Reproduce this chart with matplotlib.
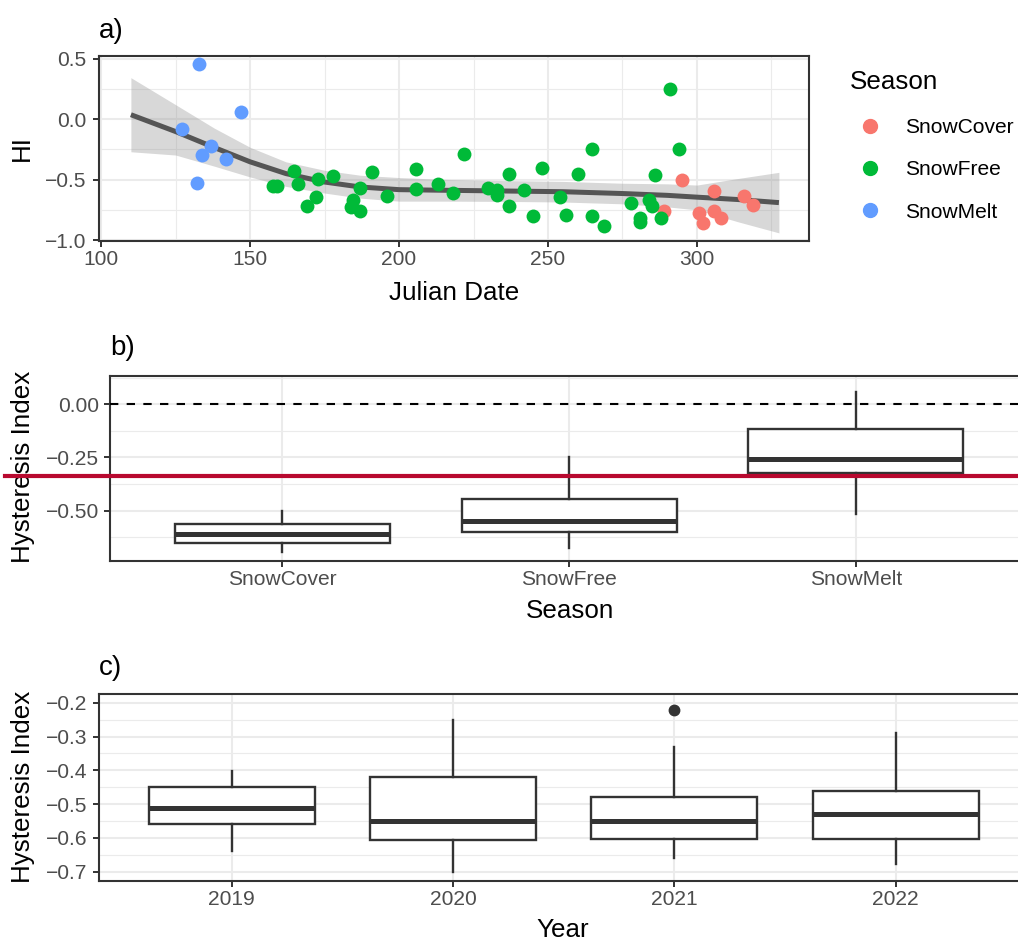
import numpy as np
import matplotlib
matplotlib.use("Agg")
import matplotlib.pyplot as plt
from matplotlib.lines import Line2D
from matplotlib.ticker import FixedLocator, FuncFormatter

plt.rcParams['font.family'] = ['Liberation Sans', 'DejaVu Sans']

W, H, DPI = 1018, 941, 100

# ---- panel a: HI against Julian date, by season ----
melt_jd = [132.8, 146.9, 127.0, 137.0, 134.0, 141.9, 132.1]
melt_hi = [0.453, 0.062, -0.081, -0.223, -0.298, -0.333, -0.527]

free_jd = [157.8, 158.9, 164.9, 166.0, 172.9, 178.0, 172.0, 169.0, 186.9, 191.0,
           184.7, 183.9, 186.9, 195.9, 205.7, 205.7, 213.2, 218.0, 221.9, 230.0,
           233.0, 233.0, 236.9, 236.9, 241.9, 245.1, 247.9, 254.0, 255.9, 260.0,
           264.9, 264.9, 268.9, 277.9, 280.9, 280.9, 284.0, 284.8, 285.9, 287.9,
           290.9, 293.9]
free_hi = [-0.556, -0.556, -0.431, -0.539, -0.492, -0.473, -0.645, -0.720, -0.567, -0.436,
           -0.672, -0.728, -0.761, -0.636, -0.414, -0.575, -0.535, -0.608, -0.292, -0.570,
           -0.583, -0.631, -0.456, -0.717, -0.589, -0.798, -0.403, -0.645, -0.789, -0.456,
           -0.250, -0.798, -0.887, -0.692, -0.817, -0.848, -0.667, -0.720, -0.464, -0.820,
           0.252, -0.250]

cover_jd = [295.0, 289.0, 300.8, 301.9, 305.8, 305.8, 308.1, 315.8, 318.9]
cover_hi = [-0.506, -0.756, -0.778, -0.862, -0.598, -0.762, -0.820, -0.639, -0.706]

# smooth curve and its confidence band
smooth_jd = [110, 125, 138, 150, 162, 175, 187, 200, 215, 235, 255, 275, 290, 300, 314, 327.5]
smooth_fit = [0.036, -0.103, -0.235, -0.353, -0.450, -0.520, -0.561, -0.583, -0.588, -0.594,
              -0.600, -0.615, -0.630, -0.645, -0.665, -0.690]
smooth_lo = [-0.270, -0.297, -0.389, -0.478, -0.556, -0.611, -0.653, -0.678, -0.678, -0.680,
             -0.685, -0.700, -0.725, -0.750, -0.850, -0.940]
smooth_up = [0.342, 0.119, -0.075, -0.233, -0.353, -0.423, -0.464, -0.483, -0.498, -0.508,
             -0.515, -0.530, -0.535, -0.545, -0.490, -0.440]

seasons = ['SnowCover', 'SnowFree', 'SnowMelt']
season_colors = ['#F8766D', '#00BA38', '#619CFF']

# ---- panel b: boxplots by season ----
b_whislo = [-0.695, -0.677, -0.515]
b_q1 = [-0.653, -0.599, -0.321]
b_med = [-0.611, -0.548, -0.257]
b_q3 = [-0.564, -0.446, -0.117]
b_whishi = [-0.500, -0.250, 0.056]

# ---- panel c: boxplots by year ----
years = ['2019', '2020', '2021', '2022']
c_whislo = [-0.639, -0.700, -0.660, -0.678]
c_q1 = [-0.559, -0.606, -0.603, -0.604]
c_med = [-0.511, -0.550, -0.550, -0.530]
c_q3 = [-0.449, -0.419, -0.478, -0.460]
c_whishi = [-0.402, -0.251, -0.330, -0.291]
c_outliers = [[], [], [-0.222], []]

DARK = '#333333'
TICKTXT = '#4D4D4D'
GRID = '#EBEBEB'
TICK_FS = 15.1
TITLE_FS = 18.7


def fx(px):
    return px / W


def fy(py):
    return 1 - py / H


def add_axes(left, top, right, bottom):
    return fig.add_axes([fx(left), fy(bottom), (right - left) / W, (bottom - top) / H])


def theme_bw(ax, ypad):
    ax.set_facecolor('white')
    for s in ax.spines.values():
        s.set_color(DARK)
        s.set_linewidth(1.5)
    ax.tick_params(which='major', length=4, width=1.4, color=DARK,
                   labelcolor=TICKTXT, labelsize=TICK_FS)
    ax.tick_params(axis='x', which='major', pad=3)
    ax.tick_params(axis='y', which='major', pad=ypad)
    ax.tick_params(which='minor', length=0)
    ax.grid(which='major', color=GRID, lw=1.5)
    ax.grid(which='minor', color=GRID, lw=0.8)
    ax.set_axisbelow(True)


def minus(fmt):
    def f(v, pos):
        s = format(v, fmt)
        if float(s) == 0:
            s = format(0.0, fmt)
        return s.replace('-', '\u2212')
    return FuncFormatter(f)


def draw_boxes(ax, whislo, q1, med, q3, whishi, fliers):
    stats = []
    for i in range(len(med)):
        stats.append(dict(whislo=whislo[i], q1=q1[i], med=med[i], q3=q3[i],
                          whishi=whishi[i], fliers=fliers[i]))
    ax.bxp(stats, positions=np.arange(1, len(med) + 1), widths=0.75,
           showcaps=False, showfliers=True, patch_artist=True,
           boxprops=dict(facecolor='white', edgecolor=DARK, linewidth=1.7),
           medianprops=dict(color=DARK, linewidth=3.6, solid_capstyle='butt'),
           whiskerprops=dict(color=DARK, linewidth=1.7),
           flierprops=dict(marker='o', markerfacecolor=DARK, markeredgecolor=DARK,
                           markersize=7.5, linestyle='none'))


fig = plt.figure(figsize=(W / DPI, H / DPI), dpi=DPI)
fig.patch.set_facecolor('white')

# ---------------- panel a ----------------
ax_a = add_axes(99.3, 56, 809.3, 240.5)
theme_bw(ax_a, ypad=5.5)
ax_a.fill_between(smooth_jd, smooth_lo, smooth_up, color='#999999', alpha=0.38, lw=0, zorder=1)
ax_a.plot(smooth_jd, smooth_fit, color='#555555', lw=3.6, solid_capstyle='butt', zorder=2)
groups = [(cover_jd, cover_hi), (free_jd, free_hi), (melt_jd, melt_hi)]
for (jd, hi), col in zip(groups, season_colors):
    ax_a.scatter(jd, hi, s=100, color=col, linewidths=0, zorder=3)
ax_a.set_xlim(99.4, 337.7)
ax_a.set_ylim(-1.003, 0.521)
ax_a.xaxis.set_major_locator(FixedLocator([100, 150, 200, 250, 300]))
ax_a.xaxis.set_minor_locator(FixedLocator([125, 175, 225, 275, 325]))
ax_a.yaxis.set_major_locator(FixedLocator([-1.0, -0.5, 0.0, 0.5]))
ax_a.yaxis.set_minor_locator(FixedLocator([-0.75, -0.25, 0.25]))
ax_a.yaxis.set_major_formatter(minus('.1f'))

handles = [Line2D([], [], marker='o', ls='', color=c, markersize=10) for c in season_colors]
leg = ax_a.legend(handles, seasons, loc='upper left',
                  bbox_to_anchor=(fx(841.6), fy(110)), bbox_transform=fig.transFigure,
                  frameon=False, fontsize=TICK_FS,
                  handlelength=1.9, handletextpad=0.71, labelspacing=1.1,
                  borderaxespad=0)
fig.text(fx(850), fy(89.3), 'Season', fontsize=TITLE_FS, ha='left', va='baseline')

fig.text(fx(99), fy(38), 'a)', fontsize=20, ha='left', va='baseline')
fig.text(fx(454), fy(300), 'Julian Date', fontsize=TITLE_FS, ha='center', va='baseline')
fig.text(fx(22), fy(148), 'HI', fontsize=TITLE_FS, rotation=90, ha='center', va='center')

# ---------------- panel b ----------------
ax_b = add_axes(110.4, 376, 1028, 560.7)
theme_bw(ax_b, ypad=4.3)
draw_boxes(ax_b, b_whislo, b_q1, b_med, b_q3, b_whishi, [[], [], []])
ax_b.axhline(0, color='black', lw=1.5, ls=(0, (4, 4)), zorder=4)
ax_b.set_xlim(0.4, 3.6)
ax_b.set_ylim(-0.735, 0.133)
ax_b.set_xticks([1, 2, 3], seasons)
ax_b.yaxis.set_major_locator(FixedLocator([-0.5, -0.25, 0.0]))
ax_b.yaxis.set_minor_locator(FixedLocator([-0.625, -0.375, -0.125, 0.125]))
ax_b.yaxis.set_major_formatter(minus('.2f'))

fig.text(fx(110), fy(355), 'b)', fontsize=20, ha='left', va='baseline')
fig.text(fx(570), fy(618), 'Season', fontsize=TITLE_FS, ha='center', va='baseline')
fig.text(fx(23), fy(467), 'Hysteresis Index', fontsize=TITLE_FS, rotation=90,
         ha='center', va='center')

# ---------------- panel c ----------------
ax_c = add_axes(98.7, 694.3, 1028.6, 880.7)
theme_bw(ax_c, ypad=4)
draw_boxes(ax_c, c_whislo, c_q1, c_med, c_q3, c_whishi, c_outliers)
ax_c.set_xlim(0.4, 4.6)
ax_c.set_ylim(-0.727, -0.175)
ax_c.set_xticks([1, 2, 3, 4], years)
ax_c.yaxis.set_major_locator(FixedLocator([-0.7, -0.6, -0.5, -0.4, -0.3, -0.2]))
ax_c.yaxis.set_minor_locator(FixedLocator([-0.65, -0.55, -0.45, -0.35, -0.25]))
ax_c.yaxis.set_major_formatter(minus('.1f'))

fig.text(fx(99), fy(675), 'c)', fontsize=20, ha='left', va='baseline')
fig.text(fx(563), fy(937), 'Year', fontsize=TITLE_FS, ha='center', va='baseline')
fig.text(fx(23), fy(787), 'Hysteresis Index', fontsize=TITLE_FS, rotation=90,
         ha='center', va='center')

# red reference line drawn across panel b
fig.add_artist(Line2D([fx(5), 1.0], [fy(476), fy(476)], color='#B8092F', lw=3.0,
                      transform=fig.transFigure, zorder=10))

fig.savefig('out.png', dpi=DPI)
